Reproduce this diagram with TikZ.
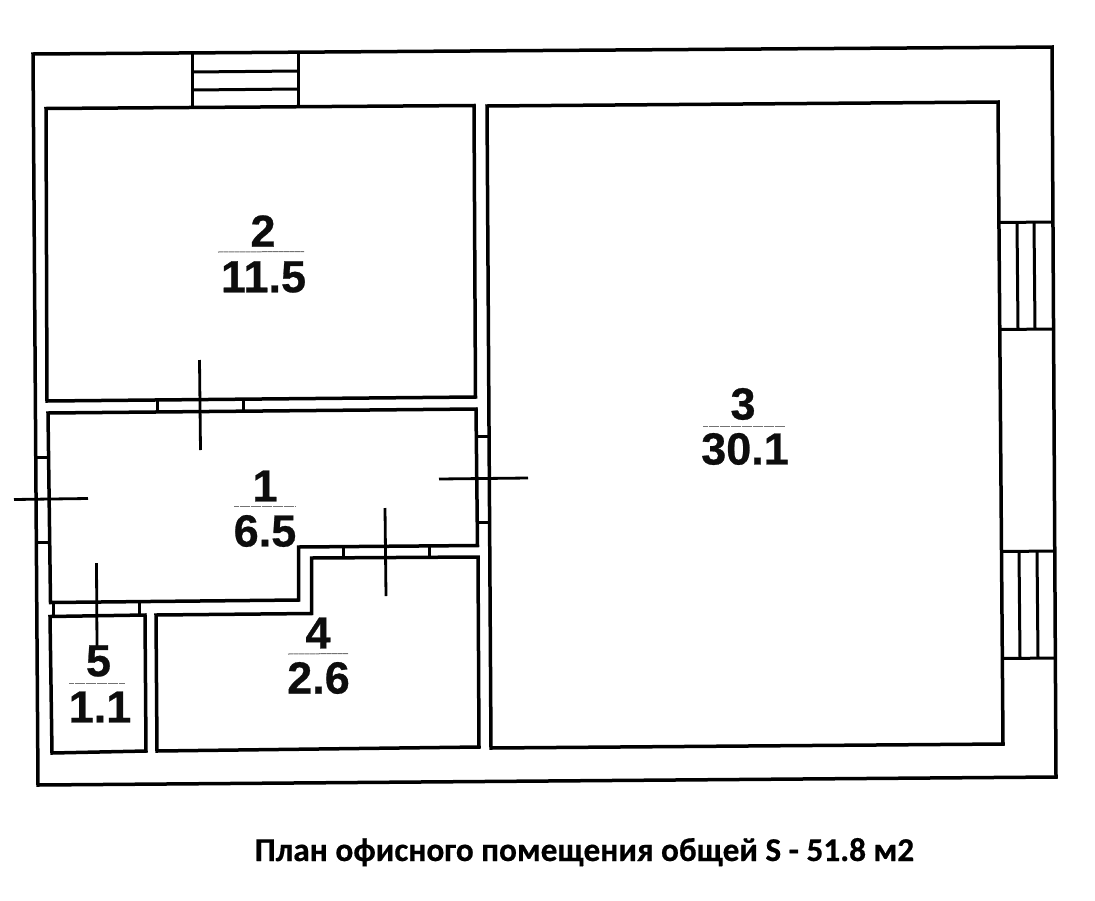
\documentclass[tikz,border=0pt]{standalone}
\usepackage{fontspec}
\setmainfont[BoldFeatures={FakeBold=0.6}]{Liberation Sans}
\newfontfamily\capfont[BoldFeatures={FakeBold=0.5}]{Carlito}
\tikzset{
  wall/.style={draw=black,line width=3.5pt,line join=miter},
  thinwall/.style={draw=black,line width=3pt},
  crossline/.style={draw=black,line width=2.8pt},
  fracbar/.style={draw=black!55,line width=1pt,dash pattern=on 5pt off 0.5pt},
  numlabel/.style={font=\fontsize{45}{45}\selectfont\bfseries,inner sep=0pt,text=black!95},
  caption/.style={font=\capfont\fontsize{33.3}{35}\selectfont\bfseries,inner sep=0pt,text=black,anchor=base}
}
\begin{document}
\begin{tikzpicture}[x=1pt,y=-1pt]
\useasboundingbox[fill=white] (0,0) rectangle (1095,900);
% outer wall
\draw[wall] (33,54) -- (1052,47) -- (1056,777) -- (38,785) -- cycle;
% rooms
\draw[wall] (46,108.5) -- (474,105.5) -- (475.5,397) -- (47,401) -- cycle;
\draw[wall] (487,106) -- (998,102) -- (1003,744) -- (491,748) -- cycle;
\draw[wall] (48,413) -- (476,409) -- (477.5,545.5) -- (298.5,547) -- (298.5,600) -- (50.5,602.5) -- cycle;
\draw[wall] (156,615) -- (311.5,613.5) -- (311.5,558) -- (478,557) -- (479,747) -- (157,751) -- cycle;
\draw[wall] (50,616.5) -- (145,615) -- (146,751) -- (52,753) -- cycle;
% top window
\draw[thinwall] (192,53) -- (192,108);
\draw[thinwall] (298,52) -- (298,107);
\draw[thinwall] (192,72) -- (298,71);
\draw[thinwall] (192,90) -- (298,89);
% right windows
\draw[thinwall] (999,222.5) -- (1052,222);
\draw[thinwall] (999,329.5) -- (1053,329);
\draw[thinwall] (1017,223) -- (1018,329);
\draw[thinwall] (1034,223) -- (1035,329);
\draw[thinwall] (1001,551.5) -- (1055,551);
\draw[thinwall] (1002,658.5) -- (1056,658);
\draw[thinwall] (1019,552) -- (1020,658);
\draw[thinwall] (1037,552) -- (1038,658);
% door jambs
\draw[thinwall] (157,400) -- (157,412);
\draw[thinwall] (243,399) -- (243,411);
\draw[thinwall] (36,457) -- (48,457);
\draw[thinwall] (37,542) -- (49,542);
\draw[thinwall] (477,436) -- (488,436);
\draw[thinwall] (478,522) -- (489,522);
\draw[thinwall] (343,547) -- (343,558);
\draw[thinwall] (429,546) -- (429,557);
\draw[thinwall] (53,602) -- (53,615);
\draw[thinwall] (139,601) -- (139,614);
% door crosses
\draw[crossline] (199.5,360) -- (200.5,450);
\draw[crossline] (14,499.5) -- (88,498.5);
\draw[crossline] (439,479) -- (528,478);
\draw[crossline] (385,508) -- (386,596);
\draw[crossline] (96.5,563) -- (97,647);
% labels
\node[numlabel] (n2) at (263,231) {2};
\draw[fracbar] (218,252) -- (304,251.5);
\node[numlabel] (a2) at (263.5,277) {11.5};
\node[numlabel] (n3) at (743,404) {3};
\draw[fracbar] (703,426) -- (785,426);
\node[numlabel] (a3) at (745,449) {30.1};
\node[numlabel] (n1) at (265,486) {1};
\draw[fracbar] (234,506) -- (295,506);
\node[numlabel] (a1) at (265,531) {6.5};
\node[numlabel] (n4) at (318,633) {4};
\draw[fracbar] (288,654) -- (348,653.5);
\node[numlabel] (a4) at (318.5,678) {2.6};
\node[numlabel] (n5) at (98.5,661) {5};
\draw[fracbar] (69,683) -- (125,683);
\node[numlabel] (a5) at (100,707) {1.1};
\node[caption] (cap) at (584.5,861) {План офисного помещения общей S - 51.8 м2};
\end{tikzpicture}
\end{document}
